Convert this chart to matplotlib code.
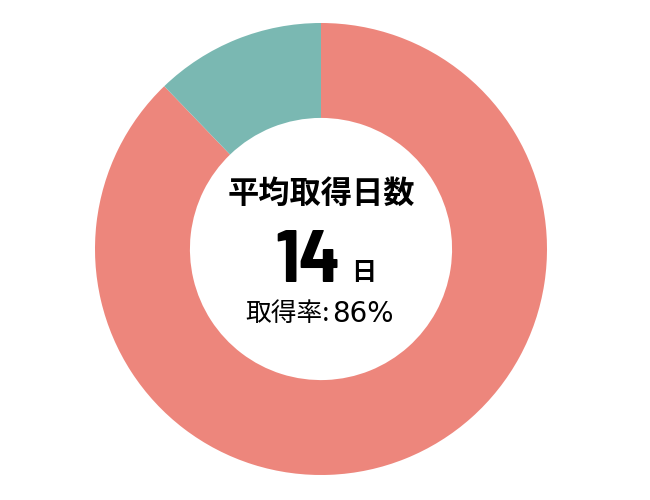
import matplotlib
matplotlib.use('Agg')
from matplotlib import pyplot as plt

# data
labels = ['取得', '未取得']
values = [87.8, 12.2]
colors = ['#ED867C', '#7AB8B2']
title_text = '平均取得日数'
days_value = '14'
days_unit = '日'
rate_label = '取得率:'
rate_value = '86%'

W, H = 650, 500
fig = plt.figure(figsize=(W / 100, H / 100), dpi=100)
cx, cy, r = 321, 249, 226
ax = fig.add_axes([(cx - r) / W, (H - cy - r) / H, 2 * r / W, 2 * r / H])
ax.pie(values, colors=colors, startangle=90, counterclock=False, radius=1,
       wedgeprops=dict(width=0.42, linewidth=0))
ax.set_xlim(-1, 1)
ax.set_ylim(-1, 1)
ax.set_aspect('equal')
ax.axis('off')

cjk = 'Noto Sans CJK JP'


def px(x, y):
    return (x - cx) / r, (cy - y) / r


ax.text(*px(321, 194), title_text, ha='center', va='center', fontsize=22.5,
        fontweight='bold', family=[cjk, 'DejaVu Sans'])
ax.text(*px(340, 282), days_value, ha='right', va='baseline', fontsize=54,
        fontweight='bold',
        family=['Barlow Semi Condensed', 'Asap Condensed', 'Barlow Condensed', 'Liberation Sans'])
ax.text(*px(351, 280), days_unit, ha='left', va='baseline', fontsize=18,
        fontweight='bold', family=[cjk, 'DejaVu Sans'])
ax.text(*px(330, 321), rate_label, ha='right', va='baseline', fontsize=18.5,
        family=[cjk, 'DejaVu Sans'])
ax.text(*px(332, 322), rate_value, ha='left', va='baseline', fontsize=20,
        family='DejaVu Sans')

fig.savefig('out.png', dpi=100)
